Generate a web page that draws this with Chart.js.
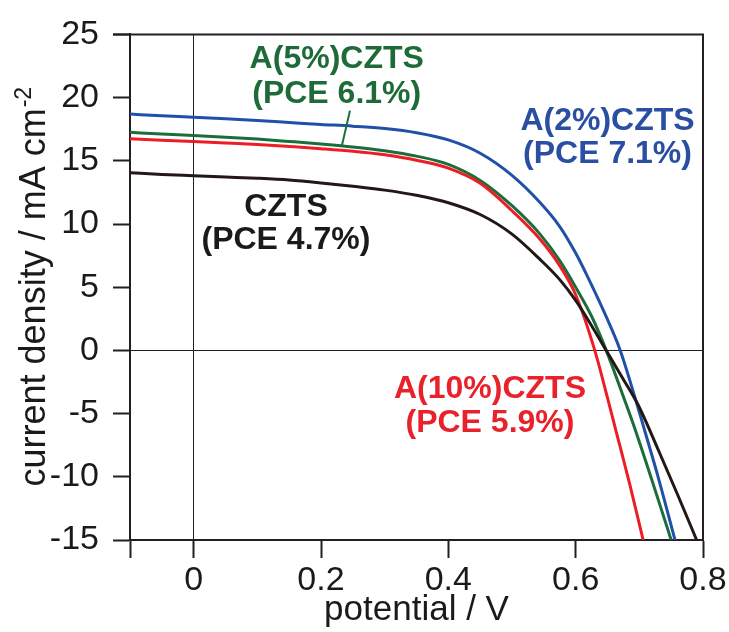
<!DOCTYPE html>
<html>
<head>
<meta charset="utf-8">
<script src="https://cdn.jsdelivr.net/npm/chart.js@4/dist/chart.umd.min.js"></script>
<style>
  html, body { margin: 0; padding: 0; background: #ffffff; }
  #wrap { width: 729px; height: 632px; }
</style>
</head>
<body>
<div id="wrap"><canvas id="jv" width="729" height="632"></canvas></div>
<script>
// J–V curves: potential (V) against current density (mA cm^-2)
const cztsV = [-0.1, -0.05, 0, 0.05, 0.1, 0.15, 0.2, 0.25, 0.3, 0.35, 0.4, 0.45, 0.5, 0.544, 0.575, 0.6, 0.625, 0.648, 0.675, 0.698, 0.73, 0.76, 0.79];
const cztsJ = [14.05, 13.92, 13.82, 13.72, 13.62, 13.48, 13.25, 12.98, 12.68, 12.27, 11.68, 10.75, 9.2, 7.2, 5.6, 3.95, 1.95, 0, -2.3, -4.3, -7.9, -11.4, -15];

const a2V = [-0.1, -0.05, 0, 0.05, 0.1, 0.15, 0.2, 0.25, 0.3, 0.35, 0.4, 0.45, 0.5, 0.544, 0.575, 0.6, 0.62, 0.645, 0.67, 0.693, 0.707, 0.73, 0.756];
const a2J = [18.7, 18.56, 18.45, 18.32, 18.18, 18.03, 17.88, 17.74, 17.55, 17.22, 16.65, 15.6, 13.85, 11.7, 9.8, 7.7, 5.7, 3.0, 0, -3.7, -6.1, -10.1, -15];

const a5V = [-0.1, -0.05, 0, 0.05, 0.1, 0.15, 0.2, 0.25, 0.3, 0.35, 0.4, 0.45, 0.5, 0.544, 0.575, 0.6, 0.625, 0.648, 0.677, 0.693, 0.72, 0.75];
const a5J = [17.25, 17.12, 17.0, 16.87, 16.72, 16.53, 16.33, 16.1, 15.8, 15.37, 14.72, 13.45, 11.45, 9.2, 7.1, 5.0, 2.7, 0, -3.95, -6.2, -10.3, -15];

const a10V = [-0.1, -0.05, 0, 0.05, 0.1, 0.15, 0.2, 0.25, 0.3, 0.35, 0.4, 0.45, 0.5, 0.544, 0.575, 0.6, 0.63, 0.651, 0.663, 0.685, 0.706];
const a10J = [16.75, 16.62, 16.52, 16.41, 16.29, 16.13, 15.96, 15.76, 15.48, 15.05, 14.42, 13.22, 11.05, 8.8, 6.7, 4.4, 0, -3.95, -6.3, -10.6, -15];

// axis ticks
const xTickValues = [-0.1, 0, 0.2, 0.4, 0.6, 0.8];
const xTickLabels = ['', '0', '0.2', '0.4', '0.6', '0.8'];
const yTickValues = [-15, -10, -5, 0, 5, 10, 15, 20, 25];

// sample names with efficiency
const seriesNames = ['CZTS', 'A(2%)CZTS', 'A(5%)CZTS', 'A(10%)CZTS'];
const pceLabels = ['(PCE 4.7%)', '(PCE 7.1%)', '(PCE 6.1%)', '(PCE 5.9%)'];

const COLORS = {
  czts: '#231815',
  a2: '#2150a8',
  a5: '#1b6e3a',
  a10: '#ee1c25',
  axis: '#231f20'
};

function toPoints(vs, js) {
  return vs.map((v, i) => ({ x: v, y: js[i] }));
}

function lineSet(label, vs, js, color) {
  return {
    label,
    data: toPoints(vs, js),
    borderColor: color,
    backgroundColor: color,
    borderWidth: 3,
    pointRadius: 0,
    fill: false,
    cubicInterpolationMode: 'monotone'
  };
}

// text annotations placed in data coordinates (x in V, y in mA cm^-2 for each line)
const annotations = [
  { lines: [seriesNames[0], pceLabels[0]], x: 0.145, y: [11.33, 8.70], color: '#1a1a1a' },
  { lines: [seriesNames[1], pceLabels[1]], x: 0.650, y: [18.16, 15.55], color: '#2a4fa2' },
  { lines: [seriesNames[2], pceLabels[2]], x: 0.2247, y: [23.02, 20.29], color: '#1e6b39' },
  { lines: [seriesNames[3], pceLabels[3]], x: 0.4654, y: [-3.04, -5.73], color: '#e8212a' }
];

const framePlugin = {
  id: 'frameAndText',
  afterDraw(chart) {
    const ctx = chart.ctx;
    const { left, right, top, bottom } = chart.chartArea;
    const xs = chart.scales.x, ys = chart.scales.y;
    ctx.save();
    // top and right edges of the frame
    ctx.strokeStyle = COLORS.axis;
    ctx.lineWidth = 2;
    ctx.beginPath();
    ctx.moveTo(left - 17, top);
    ctx.lineTo(right, top);
    ctx.lineTo(right, bottom);
    ctx.stroke();

    // pointer from the A(5%) label to its curve
    ctx.strokeStyle = COLORS.a5;
    ctx.lineWidth = 2;
    ctx.beginPath();
    ctx.moveTo(xs.getPixelForValue(0.2455), ys.getPixelForValue(18.97));
    ctx.lineTo(xs.getPixelForValue(0.2325), ys.getPixelForValue(16.13));
    ctx.stroke();

    // sample labels
    ctx.font = 'bold 32px "Liberation Sans", Arial, sans-serif';
    ctx.textAlign = 'center';
    ctx.textBaseline = 'middle';
    annotations.forEach(a => {
      ctx.fillStyle = a.color;
      a.lines.forEach((t, i) => {
        ctx.fillText(t, xs.getPixelForValue(a.x), ys.getPixelForValue(a.y[i]));
      });
    });

    // y-axis title with superscript unit exponent
    const main = 'current density / mA cm';
    const sup = '-2';
    const mainFont = '36px "Liberation Sans", Arial, sans-serif';
    const supFont = '23px "Liberation Sans", Arial, sans-serif';
    ctx.font = mainFont;
    const w1 = ctx.measureText(main).width;
    ctx.font = supFont;
    const w2 = ctx.measureText(sup).width;
    const cy = (top + bottom) / 2;
    ctx.translate(45, cy);
    ctx.rotate(-Math.PI / 2);
    ctx.fillStyle = '#1a1a1a';
    ctx.textAlign = 'left';
    ctx.textBaseline = 'alphabetic';
    const x0 = -(w1 + w2) / 2;
    ctx.font = mainFont;
    ctx.fillText(main, x0, 0);
    ctx.font = supFont;
    ctx.fillText(sup, x0 + w1 + 1, -14);
    ctx.restore();
  }
};

new Chart(document.getElementById('jv'), {
  type: 'line',
  data: {
    datasets: [
      lineSet(seriesNames[0], cztsV, cztsJ, COLORS.czts),
      lineSet(seriesNames[3], a10V, a10J, COLORS.a10),
      lineSet(seriesNames[2], a5V, a5J, COLORS.a5),
      lineSet(seriesNames[1], a2V, a2J, COLORS.a2)
    ]
  },
  options: {
    responsive: false,
    animation: false,
    devicePixelRatio: 1,
    layout: { padding: { top: 34, right: 26, left: 0, bottom: 0 } },
    plugins: {
      legend: { display: false },
      tooltip: { enabled: false }
    },
    scales: {
      x: {
        type: 'linear',
        min: -0.1,
        max: 0.8,
        afterBuildTicks: s => { s.ticks = xTickValues.map(v => ({ value: v })); },
        afterFit: s => { s.height = 92; },
        ticks: {
          autoSkip: false,
          maxRotation: 0,
          padding: 2,
          color: '#1a1a1a',
          font: { family: '"Liberation Sans", Arial, sans-serif', size: 34 },
          callback: (v) => {
            const i = xTickValues.findIndex(t => Math.abs(t - v) < 1e-9);
            return i >= 0 ? xTickLabels[i] : '';
          }
        },
        grid: {
          color: c => (c.tick && Math.abs(c.tick.value) < 1e-9) ? '#231f20' : 'rgba(0,0,0,0)',
          lineWidth: 1,
          tickColor: COLORS.axis,
          tickWidth: 2,
          tickLength: 18
        },
        border: { display: true, color: COLORS.axis, width: 2 },
        title: {
          display: true,
          text: 'potential / V',
          color: '#1a1a1a',
          font: { family: '"Liberation Sans", Arial, sans-serif', size: 35 },
          padding: { top: 0, bottom: 1 }
        }
      },
      y: {
        type: 'linear',
        min: -15,
        max: 25,
        afterBuildTicks: s => { s.ticks = yTickValues.map(v => ({ value: v })); },
        afterFit: s => { s.width = 130; },
        ticks: {
          padding: 14,
          color: '#1a1a1a',
          font: { family: '"Liberation Sans", Arial, sans-serif', size: 34 },
          callback: v => String(v)
        },
        grid: {
          color: c => (c.tick && Math.abs(c.tick.value) < 1e-9) ? '#231f20' : 'rgba(0,0,0,0)',
          lineWidth: 1,
          tickColor: COLORS.axis,
          tickWidth: 2,
          tickLength: 17
        },
        border: { display: true, color: COLORS.axis, width: 2 }
      }
    }
  },
  plugins: [framePlugin]
});
</script>
</body>
</html>
